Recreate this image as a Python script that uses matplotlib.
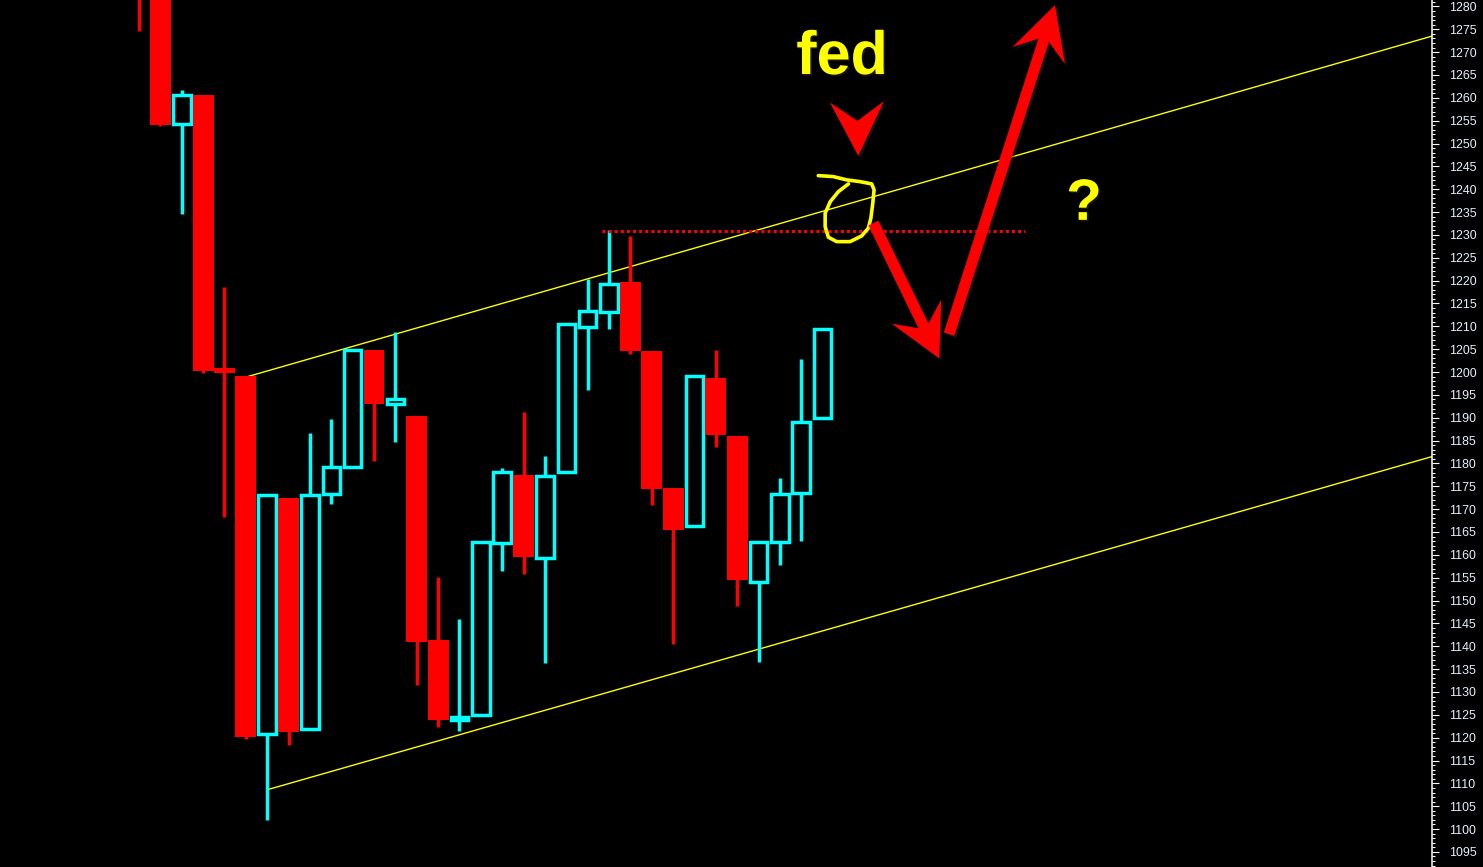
import numpy as np
import matplotlib
matplotlib.use("Agg")
import matplotlib.pyplot as plt
import matplotlib.patheffects as pe
from matplotlib.patches import Rectangle, Polygon
from matplotlib.ticker import MultipleLocator
from matplotlib.transforms import IdentityTransform

# candle data (index = bar number, left to right)
opens  = [1300, 1295, 1254.3, 1260.6, 1200.9, 1199.2, 1120.8, 1172.4, 1121.9, 1173.3,
          1179.3, 1204.8, 1193.1, 1190.4, 1141.4, 1123.9, 1125.0, 1162.5, 1177.5, 1159.3,
          1178.2, 1209.9, 1213.2, 1219.7, 1204.6, 1174.6, 1166.3, 1198.7, 1186.0, 1154.0,
          1162.9, 1173.6, 1189.9]
highs  = [1303, 1298, 1261.7, 1260.6, 1218.6, 1199.2, 1173.4, 1172.4, 1186.7, 1189.7,
          1205.0, 1204.8, 1208.8, 1190.4, 1155.2, 1146.0, 1162.8, 1179.1, 1191.2, 1181.6,
          1210.8, 1220.4, 1231.1, 1229.8, 1204.6, 1174.6, 1199.2, 1204.8, 1186.0, 1163.1,
          1176.9, 1202.9, 1209.4]
lows   = [1274.6, 1253.8, 1234.5, 1199.7, 1168.2, 1119.7, 1102.0, 1118.4, 1121.9, 1171.1,
          1179.3, 1180.6, 1184.6, 1131.5, 1122.4, 1121.5, 1125.0, 1156.5, 1155.8, 1136.3,
          1178.2, 1196.1, 1209.4, 1203.9, 1170.8, 1140.4, 1166.3, 1183.5, 1148.8, 1136.5,
          1157.8, 1163.0, 1189.9]
closes = [1285, 1254.1, 1260.6, 1200.3, 1199.7, 1120.1, 1173.1, 1121.3, 1173.1, 1179.3,
          1204.8, 1193.0, 1194.2, 1141.0, 1123.9, 1124.5, 1162.8, 1178.1, 1159.6, 1177.3,
          1210.5, 1213.4, 1219.3, 1204.6, 1174.4, 1165.5, 1199.2, 1186.2, 1154.5, 1162.8,
          1173.3, 1189.1, 1209.4]

# channel lines (bar index, price)
upper_x = [5.01, 60.53]
upper_y = [1198.9, 1273.5]
lower_x = [6.0, 60.53]
lower_y = [1108.6, 1181.5]

# resistance (red dotted)
res_x = [21.66, 41.48]
res_level = 1230.8

# hand drawn annotations (bar index, price)
circle_x = [31.80, 32.50, 33.13, 33.75, 34.30, 34.41, 34.35, 34.26, 34.14, 33.83,
            33.29, 32.66, 32.27, 32.12, 32.12, 32.36, 32.74, 33.21]
circle_y = [1242.98, 1242.76, 1242.04, 1241.66, 1241.16, 1239.85, 1236.94, 1233.65,
            1231.47, 1229.78, 1228.53, 1228.53, 1229.50, 1231.82, 1234.75, 1237.29,
            1239.47, 1241.16]
down_arrow = [(34.38, 1232.6), (37.46, 1203.0)]
up_arrow = [(37.92, 1208.3), (42.88, 1280.3)]
chevron = [(33.63, 1255.0), (33.67, 1247.3)]
fed_pos = (32.91, 1265.2)
q_pos = (44.24, 1233.3)

CYAN = "#00ffff"
RED = "#ff0000"
YEL = "#ffff00"

fig = plt.figure(figsize=(14.83, 8.67), dpi=100, facecolor="black")
ax = fig.add_axes([0, 0, 1432 / 1483, 1])
ax.set_facecolor("black")
ax.set_xlim(-6.51, 60.53)
ax.set_ylim(1091.7, 1281.4)

# channel
ax.plot(upper_x, upper_y, color=YEL, lw=1.0, zorder=1)
ax.plot(lower_x, lower_y, color=YEL, lw=1.0, zorder=1)

# candles
lw = 2.5
for i, (o, h, l, c) in enumerate(zip(opens, highs, lows, closes)):
    if c >= o:
        ax.vlines(i, c, h, color=CYAN, lw=lw, capstyle="butt", zorder=2)
        ax.vlines(i, l, o, color=CYAN, lw=lw, capstyle="butt", zorder=2)
        ax.add_patch(Rectangle((i - 0.41, o), 0.82, c - o, facecolor="none",
                               edgecolor=CYAN, lw=lw, zorder=2))
    else:
        ax.vlines(i, l, h, color=RED, lw=lw, capstyle="butt", zorder=2)
        ax.add_patch(Rectangle((i - 0.49, c), 0.98, o - c, facecolor=RED,
                               edgecolor="none", lw=0, zorder=2))

# red dotted resistance
ax.plot(res_x, [res_level, res_level], color=RED, lw=2.2, dashes=(1, 1),
        dash_capstyle="butt", zorder=3)

# yellow scribble
ax.plot(circle_x, circle_y, color=YEL, lw=2.6, solid_joinstyle="round",
        solid_capstyle="round", zorder=4)

shadow = [pe.SimplePatchShadow(offset=(1.5, -1.5), shadow_rgbFace="#2a2a2a", alpha=0.5),
          pe.Normal()]


def fat_arrow(start, tip, shaft_w, head_len, head_w, notch):
    # build in pixel space so the head keeps its shape
    p0 = ax.transData.transform(start)
    p1 = ax.transData.transform(tip)
    d = p1 - p0
    u = d / np.hypot(*d)
    n = np.array([-u[1], u[0]])
    wing = p1 - u * head_len
    back = p1 - u * (head_len - notch)
    if shaft_w == 0:
        pts = [wing + n * head_w / 2, p1, wing - n * head_w / 2, back]
    else:
        pts = [p0 + n * shaft_w / 2, back + n * shaft_w / 2, wing + n * head_w / 2, p1,
               wing - n * head_w / 2, back - n * shaft_w / 2, p0 - n * shaft_w / 2]
    poly = Polygon(pts, closed=True, transform=IdentityTransform(), facecolor=RED,
                   edgecolor="none", zorder=5)
    poly.set_path_effects(shadow)
    fig.add_artist(poly)


fat_arrow(down_arrow[0], down_arrow[1], 11, 52, 55, 16)
fat_arrow(up_arrow[0], up_arrow[1], 11, 53, 55, 16)
fat_arrow(chevron[0], chevron[1], 0, 54, 54, 19)

txt_fx = [pe.SimplePatchShadow(offset=(1.2, -1.2), shadow_rgbFace="#2a2a2a", alpha=0.5),
          pe.Normal()]
ax.text(fed_pos[0], fed_pos[1], "fed", color=YEL, fontsize=44, fontweight="bold",
        family="Liberation Sans", ha="center", va="baseline", zorder=6,
        path_effects=txt_fx)
ax.text(q_pos[0], q_pos[1], "?", color=YEL, fontsize=42, fontweight="bold",
        family="Liberation Sans", ha="center", va="baseline", zorder=6,
        path_effects=txt_fx)

# axis: only the right price scale
for s in ["top", "left", "bottom"]:
    ax.spines[s].set_visible(False)
ax.spines["right"].set_color("white")
ax.spines["right"].set_linewidth(1.1)
ax.set_xticks([])
ax.yaxis.tick_right()
ax.yaxis.set_major_locator(MultipleLocator(5))
ax.yaxis.set_minor_locator(MultipleLocator(1))
ax.tick_params(axis="y", which="major", length=5, width=0.8, color="white",
               labelcolor="#e2f1ff", labelsize=8.9, pad=7.5)
ax.tick_params(axis="y", which="minor", length=2.2, width=0.8, color="white")
for lab in ax.get_yticklabels():
    lab.set_family("Liberation Sans")

fig.savefig("out.png", dpi=100, facecolor="black")
